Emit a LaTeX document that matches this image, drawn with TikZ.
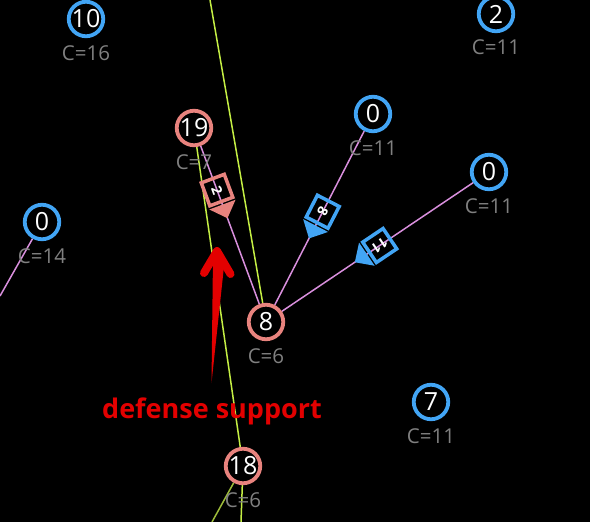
\documentclass[tikz,border=0pt]{standalone}
\usepackage{fontspec}
\setmainfont{Open Sans}
\usetikzlibrary{calc}
\definecolor{bluec}{HTML}{42A5F5}
\definecolor{pinkc}{HTML}{E8837E}
\definecolor{edgec}{HTML}{D98FDD}
\definecolor{greenc}{HTML}{C4EE44}
\definecolor{greendk}{HTML}{9DBB3A}
\definecolor{labelc}{HTML}{808080}
\definecolor{annot}{HTML}{E30000}
\pgfdeclarelayer{bg}
\pgfdeclarelayer{edges}
\pgfsetlayers{bg,edges,main}
\tikzset{
  pics/flowmarker/.style 2 args={code={
    \draw[line width=3.5pt,draw=#1] (-12.25,-12.25) rectangle (12.25,12.25);
    \fill[#1] (15.5,-14) -- (30,0) -- (15.5,14) -- cycle;
    \node[transform shape,text=white,inner sep=0pt,font=\bfseries\fontsize{14}{14}\selectfont] at (0,0) {#2};
  }}
}
\begin{document}
\begin{tikzpicture}[x=1pt,y=-1pt,
  vert/.style={circle,draw,line width=3.8pt,minimum size=34.5pt,inner sep=0pt,fill=black,text=white,font=\fontsize{25}{25}\selectfont},
  bluev/.style={vert,draw=bluec},
  pinkv/.style={vert,draw=pinkc},
  cost/.style={text=labelc,font=\fontsize{20.5}{20.5}\selectfont,inner sep=0pt},
  flow/.style={draw=edgec,line width=1.5pt},
  sup/.style={draw=greenc,line width=1.5pt}]
\useasboundingbox (0,0) rectangle (590,522);
\begin{pgfonlayer}{bg}
\fill[black] (0,0) rectangle (590,522);
\end{pgfonlayer}
\clip (0,0) rectangle (590,522);
% vertices
\node[bluev] (n10) at (86,19) {10};
\node[cost] (c10) at (86,53) {C=16};
\node[bluev] (n2) at (496,14) {2};
\node[cost] (c2) at (496,47) {C=11};
\node[pinkv] (n19) at (194,128) {19};
\node[cost] (c19) at (194,162) {C=7};
\node[bluev] (n0a) at (373,114) {0};
\node[cost] (c0a) at (373,148) {C=11};
\node[bluev] (n0b) at (489,172) {0};
\node[cost] (c0b) at (489,206) {C=11};
\node[bluev] (n0c) at (42,222) {0};
\node[cost] (c0c) at (42,256) {C=14};
\node[pinkv] (n8) at (266,322) {8};
\node[cost] (c8) at (266,356) {C=6};
\node[bluev] (n7) at (431,402) {7};
\node[cost] (c7) at (431,436) {C=11};
\node[pinkv] (n18) at (243,466) {18};
\node[cost] (c18) at (243,500) {C=6};
% free ends
\coordinate (g1) at (210,0);
\coordinate (g2) at (241,522);
\coordinate (g3) at (212,522);
\coordinate (e1) at (0,296);
\begin{pgfonlayer}{edges}
\draw[sup] (g1) -- (n8);
\draw[sup] (n19) -- (n18);
\draw[sup] (n18) -- (g2);
\draw[sup,draw=greendk] (n18) -- (g3);
\draw[flow] (n19) -- (n8);
\draw[flow] (n0a) -- (n8);
\draw[flow] (n0b) -- (n8);
\draw[flow] (n0c) -- (e1);
\end{pgfonlayer}
% flow markers
\path let \p1=($(n8)-(n19)$), \n1={atan2(\y1,\x1)} in
  ($(n19)!0.32!(n8)$) pic[rotate=\n1] {flowmarker={pinkc}{2}};
\path let \p1=($(n8)-(n0a)$), \n1={atan2(\y1,\x1)} in
  ($(n0a)!0.47!(n8)$) pic[rotate=\n1] {flowmarker={bluec}{8}};
\path let \p1=($(n8)-(n0b)$), \n1={atan2(\y1,\x1)} in
  ($(n0b)!0.49!(n8)$) pic[rotate=\n1] {flowmarker={bluec}{11}};
% annotation
\node[text=annot,inner sep=0pt,font=\bfseries\fontsize{27}{27}\selectfont] (ann) at (212,411) {defense support};
\fill[annot] (211.5,383) -- (213,257) -- (225,257) -- cycle;
\draw[annot,line width=8pt,line cap=round,line join=round] (204,273) -- (217,251) -- (230.5,274);
\end{tikzpicture}
\end{document}
